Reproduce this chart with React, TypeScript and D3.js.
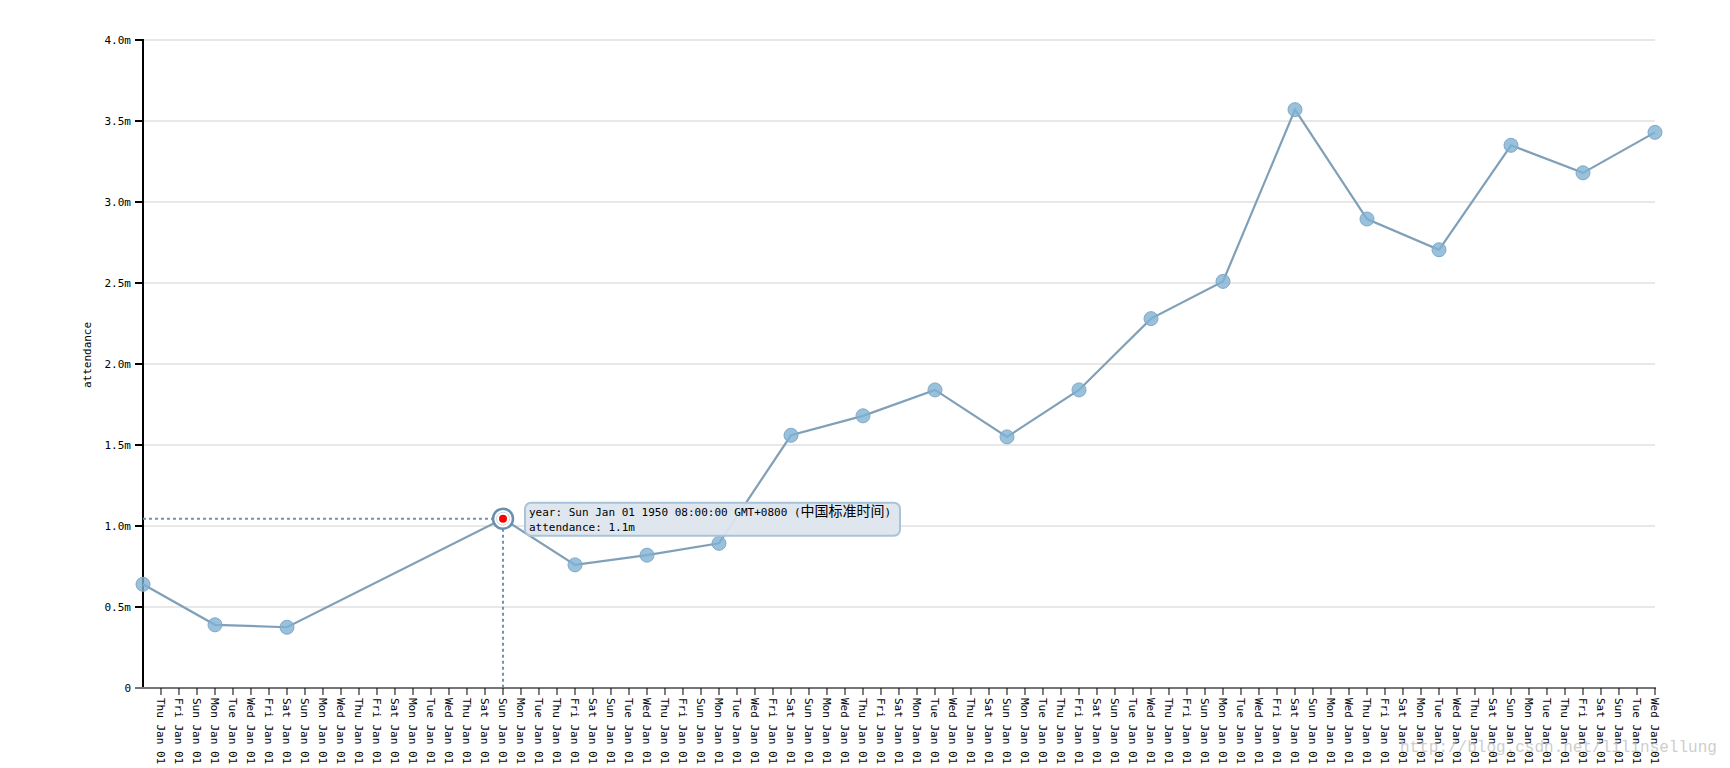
import React from "react";
import * as d3 from "d3";

const years: number[] = [1930, 1934, 1938, 1950, 1954, 1958, 1962, 1966, 1970, 1974, 1978, 1982, 1986, 1990, 1994, 1998, 2002, 2006, 2010, 2014];
const attendance: number[] = [640000, 390000, 375000, 1045000, 760000, 820000, 893000, 1560000, 1680000, 1840000, 1550000, 1840000, 2280000, 2510000, 3570000, 2895000, 2705000, 3350000, 3180000, 3430000];
const yTicks: number[] = [0, 500000, 1000000, 1500000, 2000000, 2500000, 3000000, 3500000, 4000000];
const hoverIndex = 3;
const tooltipYear = "year: Sun Jan 01 1950 08:00:00 GMT+0800 (";
const tooltipCjk = "中国标准时间";
const tooltipAttendance = "attendance: 1.1m";
const watermark = "http://blog.csdn.net/lilinsellung";

const W = 1730, H = 768;
const FONT = "'DejaVu Sans Mono', 'Liberation Mono', monospace";

export default function App() {
  const x = d3.scaleUtc().domain([new Date(Date.UTC(1930, 0, 1)), new Date(Date.UTC(2014, 0, 1))]).range([143, 1655]);
  const y = d3.scaleLinear().domain([0, 4000000]).range([688, 40]);
  const xTicks = d3.utcYear.range(new Date(Date.UTC(1931, 0, 1)), new Date(Date.UTC(2014, 0, 2)));
  const fmt = d3.utcFormat("%a %b %d");
  const data = years.map((yr, i) => ({ date: new Date(Date.UTC(yr, 0, 1)), v: attendance[i] }));
  const line = d3.line<{ date: Date; v: number }>().x(d => x(d.date)).y(d => y(d.v));
  const yFmt = (v: number) => (v === 0 ? "0" : (v / 1e6).toFixed(1) + "m");
  const hp = data[hoverIndex];
  const hx = x(hp.date), hy = y(hp.v);

  return (
    <svg width={W} height={H} style={{ position: "absolute", left: 0, top: 0, background: "#fff" }}>
      {yTicks.filter(t => t > 0).map(t => (
        <line key={"g" + t} x1={143} x2={1655} y1={y(t)} y2={y(t)} stroke="#e1e1e1" strokeWidth={1.5} />
      ))}
      <line x1={143} x2={143} y1={y(4000000) - 1} y2={688} stroke="#000" strokeWidth={2} />
      {yTicks.map(t => (
        <g key={"yt" + t}>
          <line x1={135} x2={143} y1={y(t)} y2={y(t)} stroke="#000" strokeWidth={2} />
          <text x={131} y={y(t)} dy="0.35em" textAnchor="end" fontFamily={FONT} fontSize={11} fill="#000">{yFmt(t)}</text>
        </g>
      ))}
      <text transform={`translate(91,355) rotate(-90)`} textAnchor="middle" fontFamily={FONT} fontSize={11} fill="#000">attendance</text>
      <line x1={135} x2={1656} y1={688} y2={688} stroke="#777" strokeWidth={2} />
      {xTicks.map((d, i) => (
        <g key={"xt" + i}>
          <line x1={x(d)} x2={x(d)} y1={688} y2={695} stroke="#000" strokeWidth={1} />
          <text transform={`translate(${x(d)},698) rotate(90)`} dy="0.35em" textAnchor="start" fontFamily={FONT} fontSize={11} fill="#000">{fmt(d)}</text>
        </g>
      ))}
      <line x1={143} x2={hx - 10} y1={hy} y2={hy} stroke="#6f94b8" strokeWidth={2} strokeDasharray="3,3" />
      <line x1={hx} x2={hx} y1={hy + 10} y2={687} stroke="#6f94b8" strokeWidth={2} strokeDasharray="3,3" />
      <path d={line(data) || ""} fill="none" stroke="#7fa0b8" strokeWidth={2.2} />
      {data.map((d, i) => (
        i === hoverIndex ? null : (
          <circle key={"c" + i} cx={x(d.date)} cy={y(d.v)} r={7} fill="#80B1D3" fillOpacity={0.8} stroke="#80a8c8" strokeWidth={1} />
        )
      ))}
      <circle cx={hx} cy={hy} r={10} fill="#fff" stroke="#6b8fae" strokeWidth={2.5} />
      <circle cx={hx} cy={hy} r={6.5} fill="#fff" stroke="#c7d6e3" strokeWidth={1} />
      <circle cx={hx} cy={hy} r={4} fill="#f00" />
      <rect x={hx + 22} y={hy - 16} width={375} height={33} rx={6} fill="#dde5ed" fillOpacity={0.95} stroke="#a9c3d8" strokeWidth={2} />
      <text x={hx + 26} y={hy - 3} fontFamily={FONT} fontSize={11} fill="#000">
        {tooltipYear}
        <tspan fontFamily="'Noto Sans CJK SC', sans-serif" fontSize={14}>{tooltipCjk}</tspan>
        {")"}
      </text>
      <text x={hx + 26} y={hy + 12} fontFamily={FONT} fontSize={11} fill="#000">{tooltipAttendance}</text>
      <text x={1400} y={752} fontFamily="'Liberation Mono', monospace" fontSize={16} fill="#c4c4c4" fillOpacity={0.85}>{watermark}</text>
    </svg>
  );
}
